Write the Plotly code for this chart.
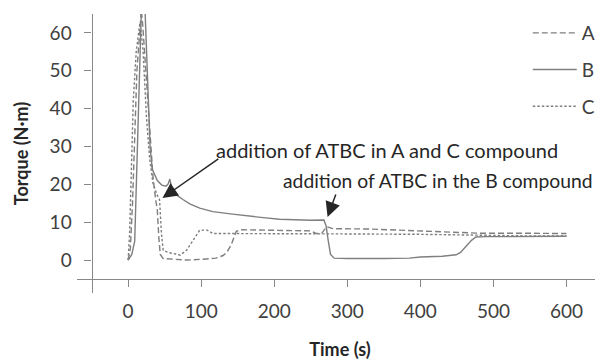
import plotly.graph_objects as go

# ---- data ----
t_A = [0, 3, 6, 9, 12, 15, 18, 20, 24, 28, 31, 34, 37, 40, 42, 44, 48, 60, 80, 100, 120, 130, 135, 141, 148, 155, 200, 250, 258, 265, 272, 280, 330, 400, 450, 480, 540, 600]
torque_A = [0, 3, 15, 35, 50, 58, 66, 62, 50, 38, 28, 22, 17, 13, 6, 1.5, 0.4, 0.2, 0.0, 0.2, 0.5, 1.2, 2.0, 4.0, 7.6, 8.0, 7.9, 7.7, 7.0, 7.1, 8.8, 8.3, 8.2, 7.7, 7.3, 7.1, 7.1, 7.0]

t_B = [0, 5, 9, 13, 16, 19, 22, 24, 27, 30, 33, 36, 40, 46, 52, 55, 57, 60, 66, 75, 85, 98, 116, 140, 153, 162, 185, 207, 230, 250, 268, 271, 274, 277, 282, 300, 350, 385, 400, 430, 449, 455, 462, 470, 476, 490, 520, 560, 600]
torque_B = [0, 1.5, 5, 30, 55, 72, 72, 62, 42, 30, 24, 22.5, 21, 19.8, 19.5, 20.2, 21.4, 19, 17.2, 16.0, 14.8, 13.7, 12.8, 12.2, 11.9, 11.6, 11.2, 10.8, 10.6, 10.5, 10.6, 9, 5, 1.5, 0.5, 0.4, 0.4, 0.5, 0.8, 1.0, 1.4, 2.0, 3.5, 5.2, 6.1, 6.2, 6.2, 6.2, 6.3]

t_C = [0, 2, 4.6, 7, 11, 14, 16, 18, 20.5, 25, 29.6, 34, 39, 43, 45.6, 48, 55, 65, 71, 80, 89, 98, 108, 116, 150, 200, 260, 300, 400, 480, 540, 600]
torque_C = [0, 7, 25, 42, 55, 60, 62.5, 60, 55, 38, 26.5, 20.3, 17.5, 15.9, 7, 2.6, 2.0, 1.6, 1.3, 2.6, 5.3, 7.9, 7.9, 7.0, 7.0, 6.9, 6.8, 6.9, 6.8, 6.5, 6.4, 6.4]

series_names = ["A", "B", "C"]
x_ticks = [0, 100, 200, 300, 400, 500, 600]
y_ticks = [0, 10, 20, 30, 40, 50, 60]

FONT = "Lato"
GRAY = "#7f7f7f"
TXT = "#404040"

fig = go.Figure()
fig.add_trace(go.Scatter(x=t_A, y=torque_A, mode="lines", name=series_names[0], legendgroup="A",
                         line=dict(color=GRAY, width=1.4, dash="6px,3px")))
fig.add_trace(go.Scatter(x=t_B, y=torque_B, mode="lines", name=series_names[1], legendgroup="B",
                         line=dict(color=GRAY, width=1.4)))
fig.add_trace(go.Scatter(x=t_C, y=torque_C, mode="lines", name=series_names[2], legendgroup="C",
                         line=dict(color=GRAY, width=1.4, dash="2.5px,2px")))

# annotations: arrows
fig.add_annotation(x=47, y=16.4, ax=125.5, ay=27, xref="x", yref="y", axref="x", ayref="y",
                   showarrow=True, arrowhead=2, arrowsize=2.0, arrowwidth=1.5, arrowcolor="#262626", text="")
fig.add_annotation(x=273, y=11.4, ax=285, ay=17.7, xref="x", yref="y", axref="x", ayref="y",
                   showarrow=True, arrowhead=2, arrowsize=2.0, arrowwidth=1.5, arrowcolor="#262626", text="")
# annotation texts
fig.add_annotation(x=(214 - 128.3) / 0.732, y=(260 - 150) / 3.785, xref="x", yref="y", xanchor="left", yanchor="middle",
                   showarrow=False, text="addition of ATBC in A and C compound",
                   font=dict(family=FONT, size=20, color="#262626"))
fig.add_annotation(x=(281 - 128.3) / 0.732, y=(260 - 180) / 3.785, xref="x", yref="y", xanchor="left", yanchor="middle",
                   showarrow=False, text="addition of ATBC in the B compound",
                   font=dict(family=FONT, size=19.3, color="#262626"))

fig.update_layout(
    width=595, height=352,
    margin=dict(l=69, r=0, t=6, b=67),
    paper_bgcolor="white", plot_bgcolor="white",
    font=dict(family=FONT, size=19, color=TXT),
    showlegend=True,
    legend=dict(x=0.857, xanchor="left", y=1.0, yanchor="top",
                bgcolor="rgba(0,0,0,0)", borderwidth=0, tracegroupgap=9,
                font=dict(family=FONT, size=19, color=TXT), itemwidth=44),
    xaxis=dict(range=[-70, 650], tickvals=x_ticks, ticks="outside", ticklen=7, tickcolor="#888",
               showline=True, linecolor="#888", linewidth=1.3, showgrid=False, zeroline=False,
               anchor="free", position=(-5 + 8.7) / 73.7, automargin=False, ticklabelstandoff=8,
               tickfont=dict(family=FONT, size=19, color=TXT),
               title=dict(text="<b>Time (s)</b>", font=dict(family=FONT, size=18, color="#262626"), standoff=23)),
    yaxis=dict(range=[-8.7, 65], tickvals=y_ticks, ticks="outside", ticklen=7, tickcolor="#888",
               showline=True, linecolor="#888", linewidth=1.3, showgrid=False, zeroline=False,
               anchor="free", position=20 / 720, automargin=False, ticklabelstandoff=9,
               tickfont=dict(family=FONT, size=19, color=TXT),
               title=dict(text="<b>Torque (N·m)</b>", font=dict(family=FONT, size=18, color="#262626"), standoff=15)),
)

fig.write_html("out.html")
